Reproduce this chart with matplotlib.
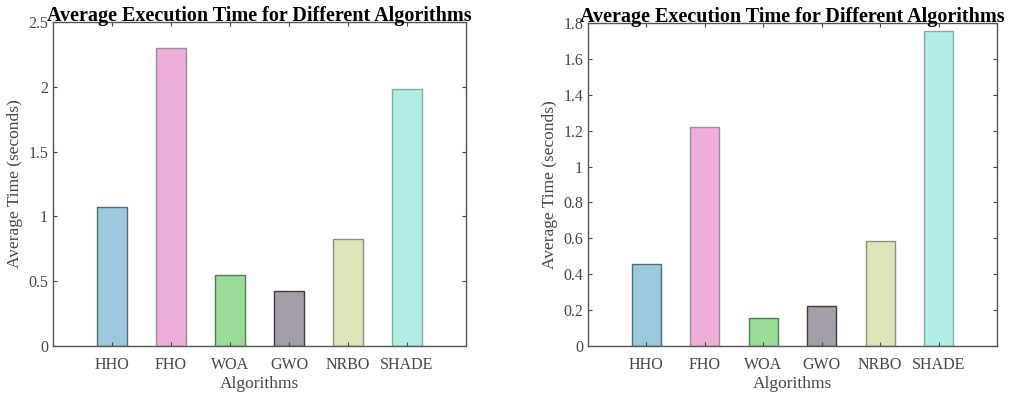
import matplotlib.pyplot as plt

plt.rcParams['font.family'] = ['Liberation Serif', 'DejaVu Serif']

# datos
algoritmos = ['HHO', 'FHO', 'WOA', 'GWO', 'NRBO', 'SHADE']
tiempo_a = [1.076, 2.30, 0.548, 0.422, 0.824, 1.985]
tiempo_b = [0.458, 1.218, 0.155, 0.222, 0.584, 1.758]
colores = ['#9ac8dc', '#edaed9', '#98dc98', '#a59ea8', '#dce5b8', '#b0ede4']
bordes = ['#4f6c7a', '#9a8e98', '#4f7f4f', '#3e3a40', '#8c9080', '#8aa8a4']

fig = plt.figure(figsize=(10.23, 3.95), dpi=100)
ax1 = fig.add_axes([53 / 1023, 49 / 395, 413 / 1023, 324 / 395])
ax2 = fig.add_axes([588 / 1023, 49 / 395, 409 / 1023, 323 / 395])


def dibujar(ax, valores, ymax, yticks):
    x = range(1, len(algoritmos) + 1)
    ax.bar(x, valores, width=0.5, color=colores, edgecolor=bordes, linewidth=1.0)
    ax.set_xlim(0, 7)
    ax.set_ylim(0, ymax)
    ax.set_xticks(list(x))
    ax.set_xticklabels(algoritmos)
    ax.set_yticks(yticks)
    ax.set_yticklabels([f'{t:g}' for t in yticks])
    ax.tick_params(direction='in', top=True, right=True, length=3,
                   color='#444444', labelcolor='#444444', labelsize=11.5)
    ax.tick_params(axis='x', pad=8)
    for s in ax.spines.values():
        s.set_color('#555555')
        s.set_linewidth(1.0)
    ax.set_xlabel('Algorithms', fontsize=12.5, color='#444444', labelpad=2)
    ax.set_ylabel('Average Time (seconds)', fontsize=12.5, color='#444444', labelpad=4)
    ax.set_title('Average Execution Time for Different Algorithms',
                 fontsize=14.5, fontweight='bold', pad=1)


dibujar(ax1, tiempo_a, 2.5, [0, 0.5, 1, 1.5, 2, 2.5])
dibujar(ax2, tiempo_b, 1.8, [0, 0.2, 0.4, 0.6, 0.8, 1, 1.2, 1.4, 1.6, 1.8])

fig.savefig('out.png', dpi=100)
